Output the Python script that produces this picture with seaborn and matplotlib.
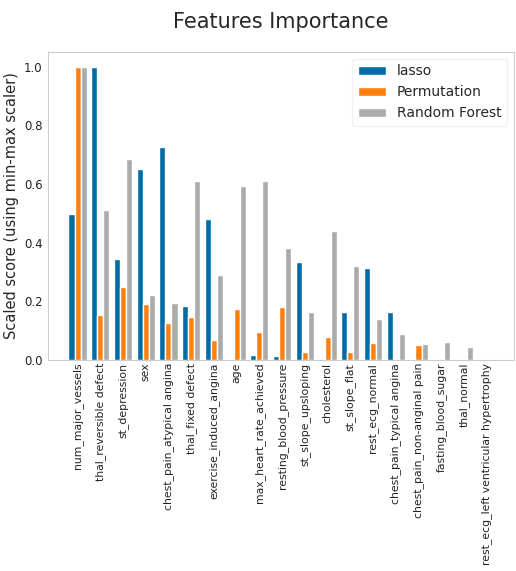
import numpy as np
import pandas as pd
import matplotlib
matplotlib.use("Agg")
import matplotlib.pyplot as plt
import seaborn as sns

features = [
    "num_major_vessels", "thal_reversible defect", "st_depression", "sex",
    "chest_pain_atypical angina", "thal_fixed defect", "exercise_induced_angina",
    "age", "max_heart_rate_achieved", "resting_blood_pressure", "st_slope_upsloping",
    "cholesterol", "st_slope_flat", "rest_ecg_normal", "chest_pain_typical angina",
    "chest_pain_non-anginal pain", "fasting_blood_sugar", "thal_normal",
    "rest_ecg_left ventricular hypertrophy",
]
lasso = [0.496, 1.0, 0.343, 0.651, 0.726, 0.184, 0.479, 0.005, 0.018, 0.012,
         0.334, 0.002, 0.165, 0.314, 0.162, 0.0, 0.0, 0.0, 0.0]
permutation = [1.0, 0.154, 0.248, 0.192, 0.125, 0.145, 0.068, 0.173, 0.097, 0.182,
               0.029, 0.077, 0.029, 0.058, 0.0, 0.05, 0.0, 0.0, 0.0]
random_forest = [1.0, 0.51, 0.685, 0.221, 0.193, 0.609, 0.289, 0.592, 0.611, 0.383,
                 0.163, 0.44, 0.32, 0.14, 0.089, 0.054, 0.06, 0.044, 0.0]
methods = ["lasso", "Permutation", "Random Forest"]
colors = ["#006BA4", "#FF800E", "#ABABAB"]

df = pd.DataFrame({"feature": features, "lasso": lasso,
                   "Permutation": permutation, "Random Forest": random_forest})
long_df = df.melt(id_vars="feature", var_name="method", value_name="score")

sns.set_style("white")
plt.rcParams["font.family"] = ["DejaVu Sans"]

fig = plt.figure(figsize=(5.16, 5.71), dpi=100)
ax = fig.add_axes([0.093, 0.3695, 0.903, 0.5395])

sns.barplot(data=long_df, x="feature", y="score", hue="method",
            hue_order=methods, palette=colors, width=0.8, saturation=1,
            ax=ax, errorbar=None)

ax.set_ylim(0, 1.05)
ax.set_xlim(-1.3, 19.2)
ax.set_yticks(np.arange(0, 1.01, 0.2))
ax.set_yticklabels([f"{v:.1f}" for v in np.arange(0, 1.01, 0.2)], fontsize=8.5)
ax.set_xticks(range(len(features)))
ax.set_xticklabels(features, rotation=90, fontsize=7.8)
ax.set_xlabel("")
ax.set_ylabel("Scaled score (using min-max scaler)", fontsize=10.5)
ax.yaxis.set_label_coords(-0.063, 0.5)
for s in ax.spines.values():
    s.set_color("#cccccc")
ax.tick_params(axis="x", length=0, pad=2, colors="#222222")
ax.tick_params(axis="y", length=0, pad=4, colors="#222222")

ax.set_title("Features Importance", fontsize=15, pad=17)
ax.legend(loc="upper right", fontsize=10, frameon=True, edgecolor="#eeeeee")

fig.savefig("out.png", dpi=100)
